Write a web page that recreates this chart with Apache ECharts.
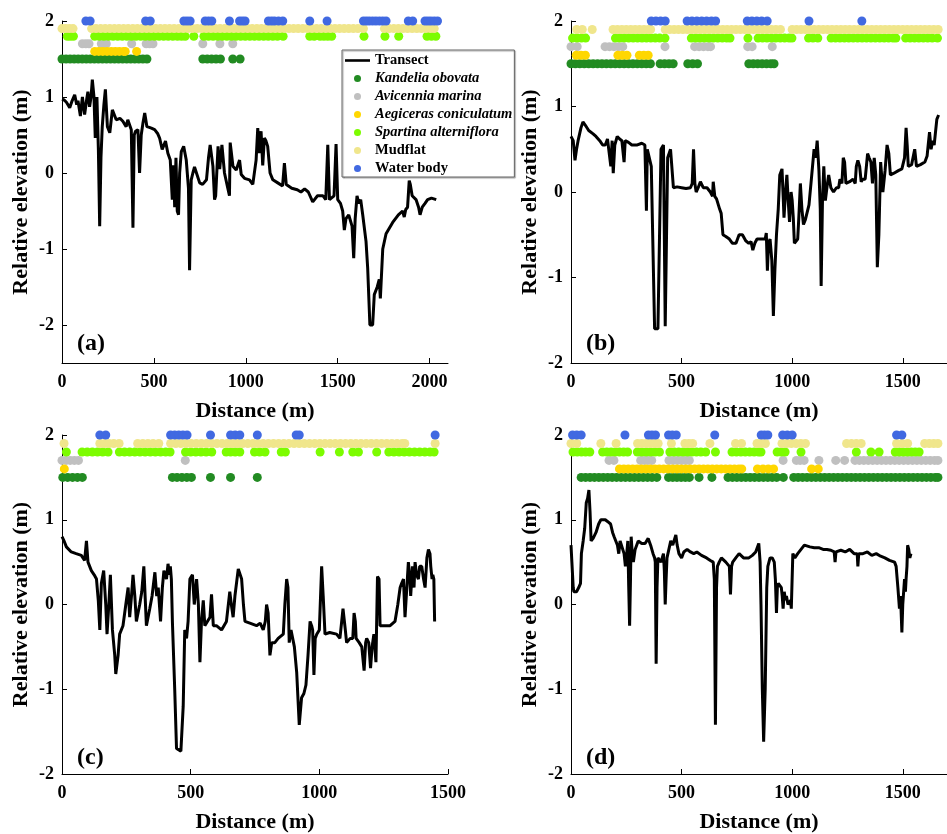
<!DOCTYPE html>
<html><head><meta charset="utf-8">
<script src="https://cdn.jsdelivr.net/npm/echarts/dist/echarts.min.js"></script>
<style>html,body{margin:0;padding:0;background:#fff}#c{width:947px;height:834px}</style>
</head><body><div id="c"></div><script>
// ---------- Transect elevations [distance m, relative elevation m] ----------
const transectA = [[0,0.97],[12,0.96],[24,0.93],[42,0.86],[55,0.95],[69,1.03],[80,0.9],[87,0.95],[100,0.75],[111,1.0],[123,0.77],[135,0.98],[141,1.07],[150,0.87],[158,1.0],[165,1.23],[174,1.0],[181,0.46],[190,1.0],[198,0.3],[205,-0.7],[212,0.2],[219,0.61],[228,0.9],[236,1.1],[247,0.61],[260,0.53],[274,0.83],[295,0.7],[315,0.72],[331,0.68],[349,0.61],[358,0.7],[367,0.72],[377,0.57],[386,-0.72],[393,0.5],[400,0.55],[413,0.57],[422,0.0],[431,0.5],[440,0.65],[450,0.79],[462,0.61],[475,0.6],[486,0.59],[504,0.57],[520,0.52],[531,0.46],[545,0.31],[563,0.42],[576,0.26],[589,0.17],[600,-0.35],[607,0.1],[613,-0.45],[620,0.2],[627,-0.5],[634,-0.55],[640,0.0],[649,0.28],[662,0.35],[676,0.17],[688,-0.2],[694,-1.28],[703,-0.09],[712,0.0],[721,0.08],[730,0.1],[749,-0.13],[765,-0.15],[786,-0.09],[797,0.2],[806,0.37],[821,0.09],[830,-0.35],[836,-0.3],[849,0.35],[858,0.05],[870,0.37],[884,0.0],[902,-0.2],[911,-0.3],[915,0.4],[930,0.09],[948,0.04],[966,0.17],[975,-0.02],[993,-0.07],[1020,-0.09],[1038,-0.15],[1056,0.17],[1065,0.59],[1074,0.26],[1083,0.55],[1092,0.1],[1101,0.46],[1110,0.42],[1119,0.35],[1132,0.0],[1147,-0.09],[1174,-0.13],[1200,-0.17],[1210,0.13],[1220,-0.15],[1250,-0.2],[1280,-0.22],[1300,-0.25],[1320,-0.21],[1340,-0.25],[1364,-0.38],[1390,-0.3],[1420,-0.3],[1435,-0.35],[1446,0.37],[1455,-0.35],[1480,-0.3],[1491,0.38],[1500,-0.35],[1515,-0.4],[1527,-0.5],[1536,-0.75],[1545,-0.6],[1560,-0.55],[1578,-0.7],[1587,-1.12],[1595,-0.6],[1605,-0.3],[1615,-0.4],[1625,-0.35],[1636,-0.55],[1654,-0.9],[1663,-1.25],[1675,-2.0],[1690,-2.0],[1699,-1.6],[1715,-1.5],[1726,-1.4],[1732,-1.65],[1745,-1.0],[1763,-0.8],[1799,-0.65],[1830,-0.55],[1853,-0.5],[1862,-0.58],[1870,-0.48],[1880,-0.45],[1889,-0.1],[1895,-0.15],[1905,-0.3],[1926,-0.35],[1940,-0.45],[1948,-0.55],[1960,-0.45],[1975,-0.4],[1989,-0.35],[2010,-0.33],[2036,-0.35]];
const transectB = [[0,0.65],[10,0.6],[18,0.37],[25,0.5],[32,0.6],[45,0.75],[54,0.82],[65,0.78],[80,0.72],[100,0.68],[113,0.65],[130,0.6],[143,0.55],[155,0.55],[165,0.62],[172,0.6],[180,0.3],[186,0.6],[191,0.22],[198,0.55],[209,0.65],[220,0.62],[230,0.6],[240,0.35],[245,0.6],[260,0.58],[275,0.55],[300,0.55],[320,0.57],[334,0.55],[341,-0.22],[345,0.5],[352,0.5],[363,0.3],[378,-1.6],[393,-1.6],[407,0.5],[418,0.55],[426,-1.57],[437,0.4],[450,0.5],[459,0.52],[463,0.05],[480,0.06],[500,0.05],[520,0.04],[540,0.05],[548,0.1],[554,0.5],[560,0.1],[566,0.0],[575,0.05],[585,0.12],[598,0.05],[615,0.05],[630,0.0],[640,-0.05],[643,0.12],[650,-0.05],[658,-0.08],[665,-0.1],[672,-0.2],[679,-0.25],[687,-0.5],[700,-0.52],[716,-0.55],[730,-0.6],[746,-0.6],[760,-0.5],[775,-0.5],[790,-0.57],[804,-0.6],[814,-0.58],[822,-0.68],[831,-0.6],[841,-0.55],[860,-0.55],[878,-0.55],[883,-0.48],[888,-0.92],[893,-0.6],[900,-0.55],[908,-0.8],[915,-1.45],[922,-0.9],[929,-0.5],[937,-0.2],[944,0.2],[954,0.27],[960,-0.1],[963,-0.3],[970,0.0],[976,0.2],[982,-0.1],[988,-0.35],[995,0.0],[1000,-0.1],[1005,-0.3],[1010,-0.6],[1025,-0.55],[1030,-0.3],[1037,0.1],[1044,-0.2],[1051,-0.38],[1060,-0.32],[1076,-0.15],[1085,0.1],[1092,0.3],[1099,0.5],[1106,0.4],[1113,0.6],[1121,0.25],[1127,-0.2],[1131,-1.1],[1137,-0.1],[1143,0.3],[1150,-0.1],[1157,0.05],[1165,0.2],[1175,0.05],[1187,0.0],[1200,0.05],[1210,0.05],[1216,0.15],[1225,0.1],[1231,0.4],[1237,0.35],[1243,0.1],[1260,0.12],[1275,0.15],[1285,0.1],[1290,0.3],[1297,0.37],[1305,0.3],[1312,0.12],[1319,0.15],[1330,0.15],[1341,0.45],[1348,0.4],[1356,0.35],[1363,0.1],[1371,0.4],[1378,0.2],[1385,-0.88],[1392,-0.5],[1400,0.35],[1410,0.0],[1420,0.25],[1429,0.55],[1437,0.45],[1444,0.2],[1460,0.22],[1480,0.25],[1496,0.27],[1508,0.4],[1515,0.75],[1520,0.55],[1525,0.3],[1540,0.32],[1554,0.5],[1562,0.3],[1580,0.32],[1600,0.35],[1610,0.42],[1615,0.55],[1621,0.7],[1628,0.5],[1635,0.6],[1642,0.55],[1648,0.7],[1654,0.85],[1662,0.9]];
const transectC = [[0,0.8],[8,0.75],[17,0.68],[36,0.62],[55,0.6],[75,0.58],[88,0.52],[95,0.75],[101,0.5],[114,0.4],[125,0.35],[134,0.3],[141,0.05],[147,-0.3],[153,0.25],[162,0.4],[170,0.0],[175,-0.35],[182,0.0],[188,0.35],[196,-0.3],[205,-0.6],[209,-0.82],[218,-0.6],[224,-0.35],[237,-0.25],[248,0.0],[257,0.2],[263,-0.15],[270,0.1],[276,0.35],[283,0.1],[289,-0.2],[302,0.0],[310,0.15],[318,0.45],[328,-0.25],[341,-0.05],[350,0.1],[361,0.38],[368,0.1],[374,0.2],[383,-0.2],[390,0.2],[396,0.4],[406,0.3],[412,0.48],[418,0.35],[421,0.45],[425,0.3],[429,-0.2],[438,-1.0],[445,-1.7],[462,-1.73],[471,-1.2],[477,-0.3],[484,-0.4],[490,-0.2],[497,0.3],[507,0.35],[514,0.0],[523,0.3],[530,0.0],[536,-0.68],[542,-0.2],[549,0.05],[555,-0.25],[565,-0.2],[575,-0.15],[581,0.12],[588,-0.25],[600,-0.25],[620,-0.3],[639,-0.2],[645,-0.2],[652,0.15],[658,0.0],[665,-0.15],[672,0.1],[685,0.42],[698,0.3],[705,0.0],[711,-0.2],[730,-0.22],[756,-0.25],[770,-0.22],[782,-0.3],[790,-0.2],[795,0.0],[801,-0.1],[808,-0.6],[815,-0.45],[827,-0.45],[840,-0.4],[860,-0.35],[866,0.0],[873,0.3],[878,0.2],[883,-0.45],[890,-0.3],[896,-0.3],[903,-0.5],[912,-0.8],[922,-1.42],[931,-1.1],[940,-1.05],[948,-0.95],[956,-0.6],[964,-0.2],[970,-0.25],[974,-0.3],[979,-0.83],[984,-0.4],[990,-0.35],[1000,-0.3],[1009,0.45],[1015,0.1],[1022,-0.35],[1040,-0.33],[1067,-0.35],[1080,-0.4],[1087,-0.4],[1092,-0.05],[1096,-0.05],[1101,-0.3],[1106,-0.45],[1120,-0.4],[1130,-0.4],[1135,-0.1],[1140,-0.2],[1143,-0.4],[1155,-0.45],[1165,-0.5],[1170,-0.5],[1174,-0.78],[1180,-0.45],[1184,-0.4],[1192,-0.45],[1199,-0.75],[1205,-0.5],[1212,-0.35],[1217,-0.33],[1220,-0.68],[1226,0.33],[1232,0.3],[1236,-0.25],[1255,-0.25],[1275,-0.25],[1294,-0.2],[1305,0.0],[1314,0.2],[1320,0.25],[1327,0.3],[1333,-0.15],[1340,0.2],[1346,0.5],[1352,0.3],[1355,0.1],[1362,0.45],[1368,0.2],[1372,0.5],[1378,0.35],[1385,0.3],[1390,0.45],[1398,0.45],[1405,0.3],[1411,0.2],[1418,0.55],[1424,0.65],[1430,0.6],[1433,0.45],[1438,0.3],[1441,0.35],[1445,0.3],[1448,-0.2]];
const transectD = [[0,0.7],[4,0.5],[7,0.35],[10,0.2],[13,0.15],[20,0.14],[25,0.15],[35,0.2],[43,0.25],[47,0.6],[55,0.75],[62,0.9],[69,1.2],[75,1.25],[81,1.35],[86,1.1],[91,0.75],[100,0.78],[113,0.85],[125,0.95],[135,1.0],[143,1.02],[155,1.0],[165,0.98],[179,0.95],[188,0.85],[195,0.8],[201,0.8],[210,0.7],[216,0.6],[222,0.75],[231,0.75],[240,0.6],[246,0.45],[252,0.6],[257,0.75],[261,0.2],[265,-0.25],[269,0.3],[272,0.8],[277,0.6],[282,0.5],[290,0.65],[304,0.75],[320,0.72],[335,0.72],[349,0.78],[360,0.7],[371,0.6],[378,0.55],[381,0.5],[385,-0.7],[389,0.2],[393,0.55],[400,0.55],[407,0.5],[418,0.6],[422,0.4],[426,0.0],[430,0.3],[434,0.55],[440,0.55],[451,0.75],[460,0.7],[474,0.82],[480,0.7],[488,0.6],[500,0.55],[510,0.62],[525,0.65],[540,0.62],[555,0.6],[569,0.62],[590,0.58],[613,0.55],[630,0.52],[643,0.5],[648,0.3],[653,-1.42],[658,0.2],[662,0.45],[670,0.5],[680,0.55],[687,0.55],[700,0.5],[716,0.45],[721,0.12],[726,0.45],[731,0.5],[745,0.55],[760,0.6],[780,0.55],[804,0.55],[820,0.58],[835,0.62],[849,0.72],[855,0.5],[859,0.0],[865,-1.0],[871,-1.62],[878,-1.0],[885,0.2],[890,0.45],[900,0.55],[910,0.55],[919,0.5],[924,0.3],[929,-0.1],[933,0.2],[937,0.25],[944,0.25],[951,0.2],[955,0.1],[959,-0.05],[964,0.15],[970,0.05],[974,0.1],[981,0.0],[988,0.02],[993,0.05],[996,-0.05],[1003,0.6],[1012,0.55],[1025,0.6],[1040,0.65],[1055,0.7],[1062,0.7],[1080,0.68],[1100,0.67],[1120,0.67],[1140,0.65],[1157,0.65],[1175,0.64],[1190,0.62],[1194,0.5],[1198,0.62],[1220,0.64],[1240,0.62],[1260,0.65],[1280,0.6],[1294,0.6],[1297,0.45],[1301,0.6],[1320,0.6],[1340,0.62],[1360,0.58],[1380,0.6],[1400,0.57],[1419,0.55],[1440,0.52],[1463,0.5],[1470,0.45],[1478,0.2],[1485,-0.05],[1490,0.1],[1496,-0.33],[1500,0.0],[1504,0.15],[1508,0.3],[1512,0.15],[1515,0.3],[1519,0.45],[1522,0.7],[1527,0.65],[1532,0.55],[1537,0.6]];

// ---------- Land-cover observations along each transect (distance, m) ----------
const kandA = [0,22,44,66,88,110,132,154,176,198,220,242,264,286,308,330,352,374,396,418,440,462,766,790,814,838,862,929,969];
const aviA = [111,130,147,214,228,241,379,458,476,495,766,859,929];
const aegA = [178,200,222,245,268,290,312,335,344,406];
const spartA = [29,45,62,178,203,228,253,278,303,328,353,378,403,428,453,478,503,528,553,578,603,628,650,670,717,772,797,822,847,872,897,922,947,972,997,1022,1047,1072,1097,1122,1147,1172,1203,1348,1372,1404,1425,1446,1467,1643,1757,1832,1986,2010,2034];
const mudA = [0,20,40,60,161,185,210,235,260,285,310,335,360,385,410,435,460,485,510,535,560,585,610,635,660,685,710,735,760,785,810,835,860,885,910,935,960,985,1010,1035,1060,1085,1110,1135,1160,1185,1210,1235,1260,1285,1310,1335,1360,1385,1410,1435,1460,1485,1510,1535,1560,1585,1610,1640,1754,1780,1805,1830,1855,1880,1905,1930,1955,1980,2005,2025];
const waterA = [130,153,455,480,663,680,697,779,797,815,911,966,981,996,1123,1140,1156,1178,1201,1348,1442,1640,1656,1672,1690,1708,1727,1745,1763,1884,1908,1975,1991,2007,2025,2043];

const kandB = [0,20,40,60,80,100,120,140,160,180,200,220,240,260,280,300,320,340,359,403,423,443,462,528,550,572,804,824,844,864,884,904,918];
const aviB = [0,28,154,174,194,214,234,425,559,579,599,619,631,799,819,910];
const aegB = [24,45,65,212,232,253,309,329,349];
const spartB = [7,27,47,66,201,221,241,261,281,301,321,341,361,381,401,425,544,564,584,604,624,644,664,684,704,719,800,846,866,886,906,926,946,966,986,999,1074,1094,1116,1176,1196,1216,1236,1256,1276,1296,1316,1336,1356,1376,1396,1416,1436,1456,1469,1513,1533,1553,1573,1593,1613,1633,1657];
const mudB = [26,51,96,190,210,230,250,270,290,310,330,350,360,426,446,466,486,506,526,546,566,586,606,626,646,666,686,706,726,746,766,786,806,826,846,866,886,906,926,947,1000,1020,1040,1060,1080,1100,1120,1140,1160,1180,1200,1220,1240,1260,1280,1300,1320,1340,1360,1380,1400,1420,1440,1460,1480,1500,1520,1540,1560,1580,1600,1620,1640,1660];
const waterB = [363,384,405,426,525,547,569,591,613,635,654,797,818,840,862,887,1076,1315];

const kandC = [3,22,41,60,79,429,447,466,485,503,577,655,759];
const aviC = [0,16,32,48,64,479];
const aegC = [9];
const spartC = [17,78,98,118,138,158,179,223,243,263,283,303,323,343,363,383,403,420,480,500,520,540,560,582,638,655,673,691,748,768,789,852,868,1003,1078,1130,1152,1223,1270,1290,1310,1330,1350,1370,1390,1410,1430,1446];
const mudC = [8,147,165,183,201,222,294,314,334,354,376,422,442,462,482,502,522,542,562,582,602,622,642,662,682,702,722,742,762,782,802,822,842,862,882,902,922,942,962,982,1002,1022,1042,1062,1082,1102,1122,1142,1162,1182,1202,1222,1242,1262,1282,1302,1322,1332,1450];
const waterC = [147,170,422,438,454,470,486,577,655,673,691,759,910,922,1450];

const kandD = [46,66,86,106,126,146,166,186,206,226,246,266,286,306,326,346,366,388,441,460,479,498,517,535,579,637,710,730,750,770,790,810,830,850,870,890,910,930,960,1007,1027,1047,1067,1087,1107,1127,1147,1167,1187,1207,1227,1247,1267,1287,1307,1327,1347,1367,1387,1407,1427,1447,1467,1487,1507,1527,1547,1567,1587,1607,1627,1647,1659];
const aviD = [172,194,315,332,348,365,443,462,481,500,518,535,959,1019,1036,1054,1121,1197,1237,1284,1304,1324,1344,1364,1384,1404,1424,1444,1464,1484,1504,1524,1544,1564,1584,1604,1624,1644,1659];
const aegD = [219,239,259,279,299,319,339,359,379,399,419,439,459,479,499,519,539,559,579,599,619,639,659,679,699,719,739,759,772,843,868,892,916,1088,1118];
const spartD = [9,28,47,66,85,143,162,181,200,219,238,256,300,320,340,360,380,400,447,467,487,507,527,547,567,587,609,653,728,748,768,788,808,828,848,859,932,950,968,1040,1290,1356,1393,1466,1484,1502,1520,1538,1556,1574];
const mudD = [0,26,135,204,301,320,340,358,376,394,454,515,533,550,628,744,771,841,860,879,954,975,996,1018,1039,1060,1246,1268,1290,1312,1472,1497,1522,1599,1620,1640,1659];
const waterD = [7,26,46,244,350,366,382,441,458,476,650,860,875,890,957,978,1000,1472,1496];

// ---------- categories ----------
const catNames = ['Kandelia obovata','Avicennia marina','Aegiceras coniculatum','Spartina alterniflora','Mudflat','Water body'];
const catLevels = [1.5,1.7,1.6,1.8,1.9,2.0];
const catColors = ['#228B22','#C0C0C0','#FFD700','#7CFC00','#F0E68C','#4169E1'];
const italicCats = ['Kandelia obovata','Avicennia marina','Aegiceras coniculatum','Spartina alterniflora'];

const panelLabels = ['(a)','(b)','(c)','(d)'];
const xMax = [2100,1700,1500,1700];
const yMin = [-2.5,-2,-2,-2];
const xTicks = [[0,500,1000,1500,2000],[0,500,1000,1500],[0,500,1000,1500],[0,500,1000,1500]];
const yTicks = [-2,-1,0,1,2];

const panels = [
  {transect: transectA, cats: [kandA, aviA, aegA, spartA, mudA, waterA]},
  {transect: transectB, cats: [kandB, aviB, aegB, spartB, mudB, waterB]},
  {transect: transectC, cats: [kandC, aviC, aegC, spartC, mudC, waterC]},
  {transect: transectD, cats: [kandD, aviD, aegD, spartD, mudD, waterD]}
];

const FONT = '"Liberation Serif","Times New Roman",serif';
const grids = [
  {left:62, top:21, width:386, height:342},
  {left:571, top:21, width:386, height:342},
  {left:62, top:435, width:386, height:342},
  {left:571, top:435, width:386, height:342}
];

const xAxes = [], yAxes = [], series = [], graphics = [];
panels.forEach((p, i) => {
  xAxes.push({
    type:'value', gridIndex:i, min:0, max:xMax[i],
    name:'Distance (m)', nameLocation:'middle', nameGap:37,
    nameTextStyle:{fontFamily:FONT, fontWeight:'bold', fontSize:22, color:'#000'},
    axisLine:{onZero:false, lineStyle:{color:'#000', width:1}},
    axisTick:{inside:true, length:5, lineStyle:{color:'#000'}, customValues:xTicks[i]},
    axisLabel:{fontFamily:FONT, fontWeight:'bold', fontSize:18, color:'#000', margin:10,
               customValues:xTicks[i], formatter: v => String(v)},
    splitLine:{show:false}
  });
  yAxes.push({
    type:'value', gridIndex:i, min:yMin[i], max:2,
    name:'Relative elevation (m)', nameLocation:'middle', nameGap:30,
    nameTextStyle:{fontFamily:FONT, fontWeight:'bold', fontSize:22, color:'#000'},
    axisLine:{show:true, onZero:false, lineStyle:{color:'#000', width:1}},
    axisTick:{show:true, inside:true, length:5, lineStyle:{color:'#000'}, customValues:yTicks},
    axisLabel:{fontFamily:FONT, fontWeight:'bold', fontSize:18, color:'#000', margin:8,
               customValues:yTicks, formatter: v => String(v)},
    splitLine:{show:false}
  });
  series.push({
    name:'Transect', type:'line', xAxisIndex:i, yAxisIndex:i,
    data:p.transect, symbol:'none', showSymbol:false,
    lineStyle:{color:'#000', width:3}, itemStyle:{color:'#000'}, z:3, animation:false
  });
  p.cats.forEach((xs, k) => {
    series.push({
      name:catNames[k], type:'scatter', xAxisIndex:i, yAxisIndex:i,
      data: xs.map(x => [x, catLevels[k]]),
      symbol:'circle', symbolSize:9, clip:false,
      itemStyle:{color:catColors[k], opacity:1}, z:4 + k, animation:false
    });
  });
  const g = grids[i];
  graphics.push({
    type:'text', left: g.left + 15, top: g.top + g.height - 31,
    style:{text:panelLabels[i], font:'bold 24px ' + FONT, fill:'#000'}
  });
});

const chart = echarts.init(document.getElementById('c'), null, {renderer:'canvas'});
chart.setOption({
  backgroundColor:'#fff',
  animation:false,
  grid: grids,
  xAxis: xAxes,
  yAxis: yAxes,
  legend: {
    data: [{name:'Transect', icon:'path://M0,0L25,0L25,2.6L0,2.6Z', itemStyle:{color:'#000'}}]
      .concat(catNames.map(n => ({name:n, icon:'circle'}))),
    orient:'vertical', left:342, top:50,
    itemWidth:25, itemHeight:7, itemGap:3,
    padding:[3,2,1,3],
    backgroundColor:'#fff', borderColor:'#666', borderWidth:1,
    shadowColor:'rgba(0,0,0,0.35)', shadowOffsetX:1, shadowOffsetY:1, shadowBlur:1,
    selectedMode:false,
    formatter: name => italicCats.indexOf(name) >= 0 ? '{i|' + name + '}' : '{n|' + name + '}',
    textStyle:{
      fontFamily:FONT, fontWeight:'bold', fontSize:14.5, color:'#000',
      rich:{
        i:{fontFamily:FONT, fontWeight:'bold', fontStyle:'italic', fontSize:14.5, color:'#000'},
        n:{fontFamily:FONT, fontWeight:'bold', fontSize:14.5, color:'#000'}
      }
    }
  },
  graphic: graphics,
  series: series
});
</script></body></html>
